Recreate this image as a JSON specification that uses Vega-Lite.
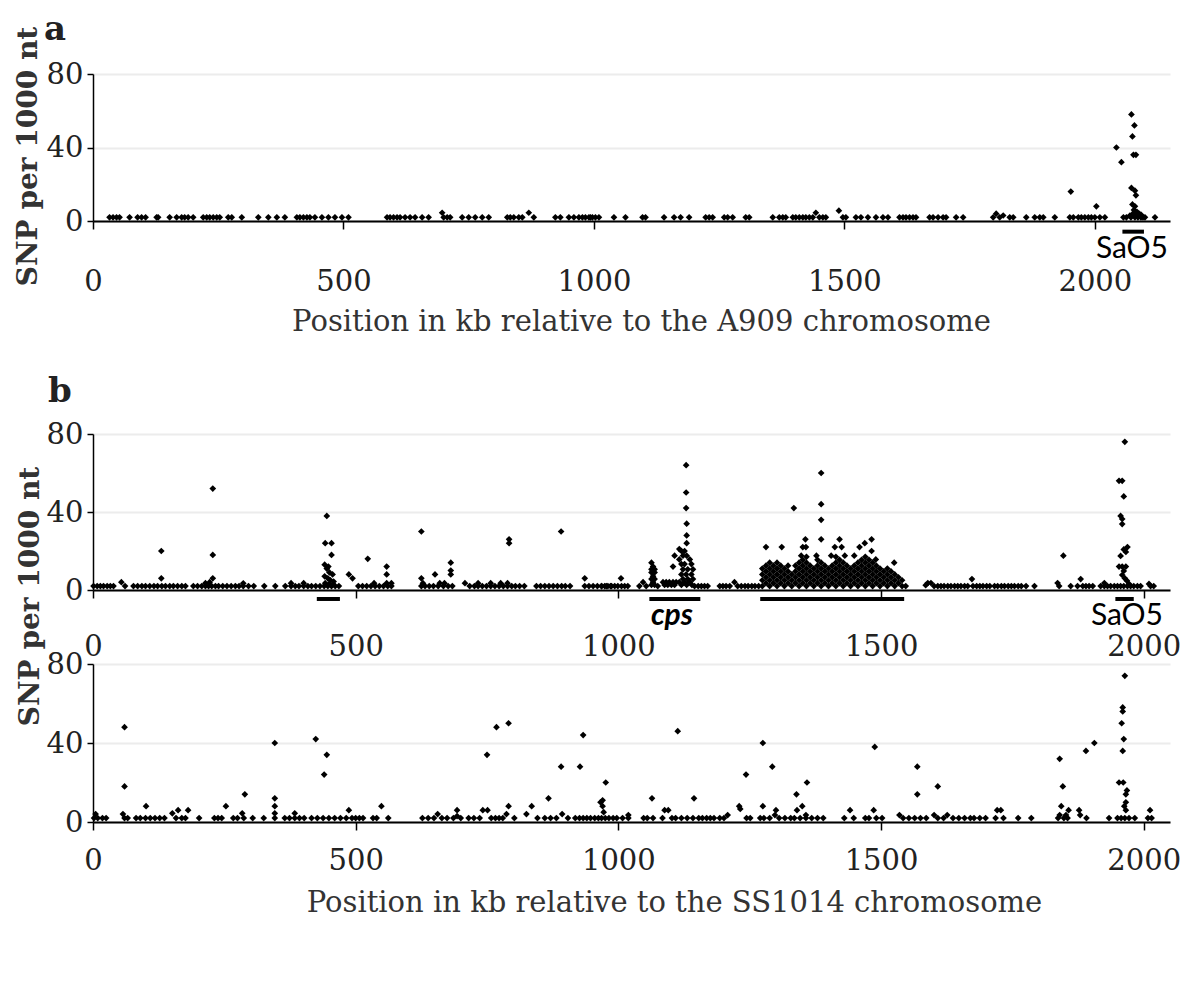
{
"$schema": "https://vega.github.io/schema/vega-lite/v6.json",
"padding": {"left": 13, "top": 13, "right": 0, "bottom": 0},
"background": "white",
"config": {
  "view": {"stroke": null},
  "font": "DejaVu Serif",
  "axis": {"labelFont": "DejaVu Serif", "labelFontSize": 29, "labelColor": "#222", "domainColor": "#000", "tickColor": "#000", "gridColor": "#ececec", "gridWidth": 2, "titleFont": "DejaVu Serif", "titleColor": "#333", "labelOverlap": false, "labelFlush": false},
  "axisX": {"grid": false, "domainWidth": 2, "tickWidth": 1.5, "tickSize": 8, "labelBaseline": "top", "format": "d", "titleFontSize": 29, "titleFontWeight": "normal", "titleBaseline": "middle", "titleAnchor": "start", "titleAlign": "center"},
  "axisY": {"grid": true, "domainWidth": 1.5, "tickWidth": 1.5, "tickSize": 6, "labelPadding": 4, "titleFontSize": 28, "titleFontWeight": "bold", "titleColor": "#333", "titleAngle": 270, "titleAlign": "center", "titleBaseline": "middle"},
  "title": {"font": "DejaVu Serif", "fontSize": 34, "fontWeight": "bold", "color": "#222", "anchor": "start", "frame": "group"}
},
"datasets": {
  "a": [
{"x":33,"y":2},{"x":40,"y":2},{"x":47,"y":2},{"x":53,"y":2},{"x":73,"y":2},{"x":89,"y":2},{"x":97,"y":2},{"x":105,"y":2},{"x":127,"y":2},{"x":130,"y":2},{"x":153,"y":2},{"x":167,"y":2},{"x":177,"y":2},{"x":183,"y":2},{"x":190,"y":2},{"x":200,"y":2},{"x":220,"y":2},{"x":227,"y":2},{"x":233,"y":2},{"x":240,"y":2},{"x":247,"y":2},{"x":253,"y":2},{"x":270,"y":2},{"x":277,"y":2},{"x":297,"y":2},{"x":330,"y":2},{"x":350,"y":2},{"x":367,"y":2},{"x":383,"y":2},{"x":407,"y":2},{"x":413,"y":2},{"x":420,"y":2},{"x":427,"y":2},{"x":433,"y":2},{"x":443,"y":2},{"x":457,"y":2},{"x":470,"y":2},{"x":483,"y":2},{"x":497,"y":2},{"x":510,"y":2},{"x":587,"y":2},{"x":593,"y":2},{"x":600,"y":2},{"x":607,"y":2},{"x":613,"y":2},{"x":623,"y":2},{"x":633,"y":2},{"x":643,"y":2},{"x":657,"y":2},{"x":670,"y":2},{"x":700,"y":2},{"x":707,"y":2},{"x":713,"y":2},{"x":737,"y":2},{"x":750,"y":2},{"x":763,"y":2},{"x":777,"y":2},{"x":790,"y":2},{"x":827,"y":2},{"x":833,"y":2},{"x":840,"y":2},{"x":850,"y":2},{"x":857,"y":2},{"x":880,"y":2},{"x":923,"y":2},{"x":933,"y":2},{"x":950,"y":2},{"x":960,"y":2},{"x":970,"y":2},{"x":983,"y":2},{"x":993,"y":2},{"x":1003,"y":2},{"x":1010,"y":2},{"x":977,"y":2},{"x":990,"y":2},{"x":997,"y":2},{"x":1040,"y":2},{"x":1063,"y":2},{"x":1097,"y":2},{"x":1103,"y":2},{"x":1140,"y":2},{"x":1160,"y":2},{"x":1173,"y":2},{"x":1190,"y":2},{"x":1223,"y":2},{"x":1230,"y":2},{"x":1237,"y":2},{"x":1260,"y":2},{"x":1267,"y":2},{"x":1277,"y":2},{"x":1303,"y":2},{"x":1310,"y":2},{"x":1357,"y":2},{"x":1370,"y":2},{"x":1377,"y":2},{"x":1383,"y":2},{"x":1397,"y":2},{"x":1403,"y":2},{"x":1410,"y":2},{"x":1417,"y":2},{"x":1423,"y":2},{"x":1430,"y":2},{"x":1437,"y":2},{"x":1450,"y":2},{"x":1457,"y":2},{"x":1463,"y":2},{"x":1497,"y":2},{"x":1503,"y":2},{"x":1523,"y":2},{"x":1533,"y":2},{"x":1547,"y":2},{"x":1563,"y":2},{"x":1577,"y":2},{"x":1587,"y":2},{"x":1610,"y":2},{"x":1617,"y":2},{"x":1623,"y":2},{"x":1630,"y":2},{"x":1637,"y":2},{"x":1643,"y":2},{"x":1670,"y":2},{"x":1677,"y":2},{"x":1687,"y":2},{"x":1697,"y":2},{"x":1703,"y":2},{"x":1723,"y":2},{"x":1737,"y":2},{"x":1797,"y":2},{"x":1810,"y":2},{"x":1830,"y":2},{"x":1837,"y":2},{"x":1863,"y":2},{"x":1880,"y":2},{"x":1890,"y":2},{"x":1897,"y":2},{"x":1920,"y":2},{"x":1950,"y":2},{"x":1957,"y":2},{"x":1967,"y":2},{"x":1973,"y":2},{"x":1980,"y":2},{"x":1987,"y":2},{"x":1993,"y":2},{"x":2000,"y":2},{"x":2010,"y":2},{"x":2020,"y":2},{"x":2057,"y":2},{"x":2063,"y":2},{"x":2072,"y":2},{"x":2080,"y":2},{"x":2086,"y":2},{"x":2092,"y":2},{"x":2096,"y":2},{"x":2100,"y":2},{"x":2120,"y":2},
{"x":697,"y":4.5},{"x":870,"y":4.5},{"x":1443,"y":4.5},{"x":1489,"y":5.6},{"x":1803,"y":4},{"x":1817,"y":3},{"x":1952,"y":16},{"x":2003,"y":8},{"x":2043,"y":40},{"x":2053,"y":32},{"x":2073,"y":58},{"x":2079,"y":52},{"x":2075,"y":46},{"x":2077,"y":36},{"x":2082,"y":36},{"x":2073,"y":18},{"x":2080,"y":16.5},{"x":2082,"y":14},{"x":2075,"y":9},{"x":2080,"y":8},{"x":2078,"y":6},{"x":2084,"y":5},{"x":2070,"y":3},{"x":2076,"y":4},{"x":2082,"y":3},{"x":2088,"y":4},{"x":2092,"y":3.5}
  ],
  "b1": [
{"x":1,"y":2},{"x":8,"y":2},{"x":14,"y":2},{"x":20,"y":2},{"x":27,"y":2},{"x":33,"y":2},{"x":39,"y":2},{"x":61,"y":2},{"x":77,"y":2},{"x":85,"y":2},{"x":93,"y":2},{"x":100,"y":2},{"x":108,"y":2},{"x":116,"y":2},{"x":123,"y":2},{"x":131,"y":2},{"x":138,"y":2},{"x":146,"y":2},{"x":153,"y":2},{"x":161,"y":2},{"x":169,"y":2},{"x":176,"y":2},{"x":191,"y":2},{"x":199,"y":2},{"x":207,"y":2},{"x":214,"y":2},{"x":220,"y":2},{"x":226,"y":2},{"x":233,"y":2},{"x":239,"y":2},{"x":247,"y":2},{"x":255,"y":2},{"x":263,"y":2},{"x":271,"y":2},{"x":278,"y":2},{"x":286,"y":2},{"x":296,"y":2},{"x":306,"y":2},{"x":326,"y":2},{"x":347,"y":2},{"x":366,"y":2},{"x":377,"y":2},{"x":385,"y":2},{"x":392,"y":2},{"x":401,"y":2},{"x":409,"y":2},{"x":416,"y":2},{"x":424,"y":2},{"x":432,"y":2},{"x":440,"y":2},{"x":447,"y":2},{"x":454,"y":2},{"x":461,"y":2},{"x":468,"y":2},{"x":505,"y":2},{"x":513,"y":2},{"x":521,"y":2},{"x":529,"y":2},{"x":537,"y":2},{"x":545,"y":2},{"x":553,"y":2},{"x":561,"y":2},{"x":568,"y":2},{"x":625,"y":2},{"x":632,"y":2},{"x":640,"y":2},{"x":648,"y":2},{"x":657,"y":2},{"x":667,"y":2},{"x":676,"y":2},{"x":684,"y":2},{"x":717,"y":2},{"x":726,"y":2},{"x":733,"y":2},{"x":741,"y":2},{"x":749,"y":2},{"x":757,"y":2},{"x":765,"y":2},{"x":773,"y":2},{"x":781,"y":2},{"x":789,"y":2},{"x":797,"y":2},{"x":804,"y":2},{"x":812,"y":2},{"x":821,"y":2},{"x":844,"y":2},{"x":852,"y":2},{"x":860,"y":2},{"x":868,"y":2},{"x":876,"y":2},{"x":884,"y":2},{"x":892,"y":2},{"x":899,"y":2},{"x":908,"y":2},{"x":936,"y":2},{"x":944,"y":2},{"x":952,"y":2},{"x":960,"y":2},{"x":968,"y":2},{"x":977,"y":2},{"x":985,"y":2},
{"x":54,"y":4},{"x":130,"y":20},{"x":130,"y":6},{"x":228,"y":52},{"x":228,"y":18},{"x":228,"y":6},{"x":222,"y":4},{"x":214,"y":3.5},{"x":286,"y":3.4},{"x":377,"y":3.5},{"x":401,"y":3.5},{"x":445,"y":38},{"x":442,"y":24},{"x":454,"y":24},{"x":454,"y":18},{"x":441,"y":13},{"x":448,"y":12},{"x":445,"y":11},{"x":450,"y":9},{"x":456,"y":8},{"x":441,"y":7},{"x":447,"y":6},{"x":452,"y":5},{"x":458,"y":4.3},{"x":442,"y":3.5},{"x":449,"y":3},{"x":457,"y":3},{"x":487,"y":8},{"x":494,"y":6},{"x":523,"y":16},{"x":535,"y":3.5},{"x":559,"y":12},{"x":559,"y":8},{"x":559,"y":3.5},{"x":568,"y":3.5},{"x":625,"y":30},{"x":625,"y":6},{"x":628,"y":3.5},{"x":651,"y":8},{"x":660,"y":3.5},{"x":669,"y":3.5},{"x":681,"y":14},{"x":681,"y":10},{"x":681,"y":8},{"x":708,"y":3.5},{"x":733,"y":3.5},{"x":757,"y":3.5},{"x":776,"y":3.5},{"x":789,"y":3.5},{"x":792,"y":26},{"x":792,"y":24},{"x":891,"y":30},{"x":936,"y":6},
{"x":968,"y":2},{"x":974,"y":2},{"x":980,"y":2},{"x":987,"y":2},{"x":993,"y":2},{"x":999,"y":2},{"x":1006,"y":2},{"x":1012,"y":2},{"x":1018,"y":2},{"x":1005,"y":6},
{"x":1040,"y":2},{"x":1047,"y":4},{"x":1053,"y":2},{"x":1063,"y":14},{"x":1066,"y":12},{"x":1063,"y":10.6},{"x":1069,"y":10.6},{"x":1063,"y":9},{"x":1069,"y":9},{"x":1066,"y":7},{"x":1063,"y":5.6},{"x":1069,"y":5.6},{"x":1066,"y":4},{"x":1063,"y":2.6},{"x":1069,"y":2.6},{"x":1075,"y":2},{"x":1085,"y":4},{"x":1091,"y":4},{"x":1097,"y":4},{"x":1104,"y":4},{"x":1110,"y":4},{"x":1116,"y":4},{"x":1088,"y":2.6},{"x":1094,"y":2.6},{"x":1101,"y":2.6},{"x":1107,"y":2.6},{"x":1104,"y":12},{"x":1107,"y":17.6},{"x":1116,"y":21},{"x":1129,"y":64},{"x":1129,"y":50},{"x":1129,"y":42},{"x":1130,"y":34},{"x":1130,"y":28},{"x":1130,"y":24},{"x":1120,"y":20},{"x":1126,"y":20},{"x":1123,"y":17.6},{"x":1130,"y":17.6},{"x":1116,"y":15.7},{"x":1136,"y":15.7},{"x":1120,"y":13.3},{"x":1126,"y":13.3},{"x":1139,"y":13.3},{"x":1123,"y":10.6},{"x":1132,"y":10.6},{"x":1142,"y":10.6},{"x":1120,"y":8},{"x":1129,"y":8},{"x":1139,"y":8},{"x":1123,"y":5.6},{"x":1132,"y":5.6},{"x":1142,"y":5.6},{"x":1126,"y":4},{"x":1136,"y":4},{"x":1120,"y":2.6},{"x":1130,"y":2.6},{"x":1140,"y":2.6},{"x":1145,"y":2},{"x":1152,"y":2},{"x":1158,"y":2},{"x":1164,"y":2},{"x":1170,"y":2},
{"x":1193,"y":2},{"x":1199,"y":2},{"x":1205,"y":2},{"x":1212,"y":2},{"x":1221,"y":4},{"x":1227,"y":2},{"x":1234,"y":2},{"x":1241,"y":2},{"x":1247,"y":2},{"x":1254,"y":2},{"x":1260,"y":2},{"x":1267,"y":2},
{"x":1274,"y":2},{"x":1274,"y":5},{"x":1274,"y":8},{"x":1274,"y":11},
{"x":1281,"y":3.5},{"x":1281,"y":6.5},{"x":1281,"y":9.5},{"x":1281,"y":12.5},{"x":1281,"y":22},
{"x":1288,"y":2},{"x":1288,"y":5},{"x":1288,"y":8},{"x":1288,"y":11},{"x":1288,"y":14},
{"x":1295,"y":3.5},{"x":1295,"y":6.5},{"x":1295,"y":9.5},{"x":1295,"y":12.5},
{"x":1302,"y":2},{"x":1302,"y":5},{"x":1302,"y":8},{"x":1302,"y":11},{"x":1302,"y":14},
{"x":1309,"y":3.5},{"x":1309,"y":6.5},{"x":1309,"y":9.5},{"x":1309,"y":12.5},
{"x":1316,"y":2},{"x":1316,"y":5},{"x":1316,"y":8},{"x":1316,"y":11},{"x":1311,"y":22},
{"x":1323,"y":3.5},{"x":1323,"y":6.5},{"x":1323,"y":9.5},{"x":1323,"y":12.5},
{"x":1330,"y":2},{"x":1330,"y":5},{"x":1330,"y":8},
{"x":1337,"y":3.5},{"x":1337,"y":6.5},{"x":1337,"y":9.5},{"x":1337,"y":12.5},{"x":1334,"y":42},
{"x":1344,"y":2},{"x":1344,"y":5},{"x":1344,"y":8},{"x":1344,"y":11},{"x":1344,"y":14},
{"x":1351,"y":3.5},{"x":1351,"y":6.5},{"x":1351,"y":9.5},{"x":1351,"y":12.5},{"x":1351,"y":15.5},{"x":1351,"y":22},{"x":1348,"y":17.6},
{"x":1358,"y":2},{"x":1358,"y":5},{"x":1358,"y":8},{"x":1358,"y":11},{"x":1358,"y":14},{"x":1358,"y":17},{"x":1356,"y":26},{"x":1357,"y":22},
{"x":1365,"y":3.5},{"x":1365,"y":6.5},{"x":1365,"y":9.5},{"x":1365,"y":12.5},
{"x":1372,"y":2},{"x":1372,"y":5},{"x":1372,"y":8},{"x":1372,"y":11},
{"x":1379,"y":3.5},{"x":1379,"y":6.5},{"x":1379,"y":9.5},{"x":1379,"y":12.5},{"x":1379,"y":15.5},{"x":1377,"y":17.6},
{"x":1386,"y":2},{"x":1386,"y":5},{"x":1386,"y":8},{"x":1386,"y":11},{"x":1386,"y":14},{"x":1386,"y":60},{"x":1386,"y":44},{"x":1386,"y":36},{"x":1386,"y":26},
{"x":1393,"y":3.5},{"x":1393,"y":6.5},{"x":1393,"y":9.5},{"x":1393,"y":12.5},
{"x":1400,"y":2},{"x":1400,"y":5},{"x":1400,"y":8},{"x":1400,"y":11},
{"x":1407,"y":3.5},{"x":1407,"y":6.5},{"x":1407,"y":9.5},{"x":1407,"y":12.5},{"x":1405,"y":17.6},
{"x":1414,"y":2},{"x":1414,"y":5},{"x":1414,"y":8},{"x":1414,"y":11},{"x":1414,"y":14},{"x":1414,"y":17},{"x":1412,"y":22},
{"x":1421,"y":3.5},{"x":1421,"y":6.5},{"x":1421,"y":9.5},{"x":1421,"y":12.5},{"x":1421,"y":15.5},{"x":1421,"y":26},{"x":1425,"y":22},
{"x":1428,"y":2},{"x":1428,"y":5},{"x":1428,"y":8},{"x":1428,"y":11},{"x":1428,"y":14},{"x":1431,"y":17.6},
{"x":1435,"y":3.5},{"x":1435,"y":6.5},{"x":1435,"y":9.5},{"x":1435,"y":12.5},
{"x":1442,"y":2},{"x":1442,"y":5},{"x":1442,"y":8},{"x":1442,"y":11},
{"x":1449,"y":3.5},{"x":1449,"y":6.5},{"x":1449,"y":9.5},{"x":1449,"y":12.5},{"x":1449,"y":17.6},
{"x":1456,"y":2},{"x":1456,"y":5},{"x":1456,"y":8},{"x":1456,"y":11},{"x":1456,"y":14},
{"x":1463,"y":3.5},{"x":1463,"y":6.5},{"x":1463,"y":9.5},{"x":1463,"y":12.5},{"x":1463,"y":15.5},{"x":1459,"y":22},
{"x":1470,"y":2},{"x":1470,"y":5},{"x":1470,"y":8},{"x":1470,"y":11},{"x":1470,"y":14},{"x":1470,"y":17},{"x":1469,"y":24},
{"x":1477,"y":3.5},{"x":1477,"y":6.5},{"x":1477,"y":9.5},{"x":1477,"y":12.5},{"x":1477,"y":15.5},{"x":1482,"y":26},{"x":1482,"y":20},
{"x":1484,"y":2},{"x":1484,"y":5},{"x":1484,"y":8},{"x":1484,"y":11},{"x":1484,"y":14},
{"x":1491,"y":3.5},{"x":1491,"y":6.5},{"x":1491,"y":9.5},{"x":1491,"y":12.5},{"x":1490,"y":15.7},
{"x":1498,"y":2},{"x":1498,"y":5},{"x":1498,"y":8},{"x":1498,"y":11},
{"x":1505,"y":3.5},{"x":1505,"y":6.5},{"x":1505,"y":9.5},
{"x":1512,"y":2},{"x":1512,"y":5},{"x":1512,"y":8},{"x":1512,"y":11},
{"x":1519,"y":3.5},{"x":1519,"y":6.5},{"x":1519,"y":9.5},
{"x":1526,"y":2},{"x":1526,"y":5},{"x":1526,"y":8},{"x":1525,"y":14},
{"x":1533,"y":3.5},{"x":1533,"y":6.5},
{"x":1540,"y":2},{"x":1540,"y":5},
{"x":1547,"y":2},
{"x":1585,"y":2.5},{"x":1589,"y":3.6},{"x":1595,"y":3.6},{"x":1601,"y":2},{"x":1608,"y":2},{"x":1614,"y":2},{"x":1620,"y":2},{"x":1627,"y":2},{"x":1633,"y":2},{"x":1640,"y":2},{"x":1646,"y":2},{"x":1652,"y":2},{"x":1659,"y":2},{"x":1665,"y":2},{"x":1673,"y":5.6},{"x":1675,"y":2},{"x":1682,"y":2},{"x":1688,"y":2},{"x":1694,"y":2},{"x":1701,"y":2},{"x":1707,"y":2},{"x":1716,"y":2},{"x":1722,"y":2},{"x":1729,"y":2},{"x":1735,"y":2},{"x":1742,"y":2},{"x":1748,"y":2},{"x":1754,"y":2},{"x":1761,"y":2},{"x":1767,"y":2},{"x":1776,"y":2},{"x":1792,"y":2},{"x":1836,"y":3.6},{"x":1839,"y":2},{"x":1847,"y":17.6},{"x":1861,"y":2},{"x":1874,"y":2},{"x":1880,"y":5.6},{"x":1884,"y":2},{"x":1890,"y":2},{"x":1896,"y":2},{"x":1903,"y":2},{"x":1918,"y":2},{"x":1925,"y":3.6},{"x":1925,"y":2},{"x":1931,"y":2},{"x":1937,"y":2},{"x":1944,"y":2},{"x":1950,"y":2},
{"x":1964,"y":76},{"x":1953,"y":56},{"x":1959,"y":56},{"x":1962,"y":48},{"x":1956,"y":38},{"x":1959,"y":36.4},{"x":1959,"y":33.8},{"x":1969,"y":22},{"x":1962,"y":20.8},{"x":1966,"y":19.5},{"x":1956,"y":17.5},{"x":1953,"y":12},{"x":1959,"y":12},{"x":1966,"y":12},{"x":1962,"y":9.8},{"x":1959,"y":7.7},{"x":1964,"y":6},{"x":1968,"y":4.8},{"x":1972,"y":3.1},{"x":1956,"y":2},{"x":1962,"y":2},{"x":1969,"y":2},{"x":1975,"y":2},{"x":1981,"y":2},{"x":1988,"y":2},{"x":1994,"y":2},{"x":2010,"y":3.1},{"x":2013,"y":2},{"x":2019,"y":2}
  ],
  "b2": [
{"x":2,"y":2},{"x":9,"y":2},{"x":18,"y":2},{"x":25,"y":2},{"x":5,"y":4},{"x":60,"y":48},{"x":60,"y":18},{"x":57,"y":4},{"x":60,"y":2},{"x":66,"y":2},{"x":82,"y":2},{"x":90,"y":2},{"x":100,"y":2},{"x":109,"y":2},{"x":118,"y":2},{"x":127,"y":2},{"x":136,"y":2},{"x":101,"y":8},{"x":151,"y":4.4},{"x":162,"y":6},{"x":181,"y":6},{"x":158,"y":2},{"x":169,"y":2},{"x":176,"y":2},{"x":202,"y":2},{"x":231,"y":2},{"x":238,"y":2},{"x":245,"y":2},{"x":253,"y":8},{"x":267,"y":2},{"x":275,"y":2},{"x":284,"y":4.4},{"x":287,"y":2},{"x":289,"y":14},{"x":304,"y":2},{"x":325,"y":2},{"x":346,"y":40},{"x":346,"y":12},{"x":346,"y":8},{"x":346,"y":4.4},{"x":346,"y":2},{"x":365,"y":2},{"x":374,"y":2},{"x":384,"y":4.4},{"x":384,"y":2},{"x":393,"y":2},{"x":402,"y":2},{"x":416,"y":2},{"x":427,"y":2},{"x":438,"y":2},{"x":449,"y":2},{"x":460,"y":2},{"x":471,"y":2},{"x":482,"y":2},{"x":424,"y":42},{"x":445,"y":34},{"x":440,"y":24},{"x":487,"y":6},{"x":493,"y":2},{"x":500,"y":2},{"x":507,"y":2},{"x":514,"y":2},{"x":533,"y":2},{"x":540,"y":2},{"x":562,"y":2},{"x":549,"y":8},
{"x":627,"y":2},{"x":638,"y":2},{"x":649,"y":2},{"x":656,"y":4},{"x":664,"y":2},{"x":674,"y":2},{"x":686,"y":2},{"x":693,"y":6},{"x":693,"y":3},{"x":700,"y":2},{"x":715,"y":2},{"x":725,"y":2},{"x":736,"y":2},{"x":742,"y":6},{"x":751,"y":6},{"x":758,"y":2},{"x":766,"y":2},{"x":773,"y":2},{"x":780,"y":2},{"x":787,"y":4},{"x":750,"y":34},{"x":768,"y":48},{"x":791,"y":50},{"x":791,"y":8},{"x":802,"y":2},{"x":825,"y":4},{"x":835,"y":8},{"x":846,"y":2},{"x":867,"y":12},{"x":860,"y":2},{"x":871,"y":2},{"x":882,"y":2},{"x":893,"y":4},{"x":904,"y":2},{"x":891,"y":28},{"x":927,"y":28},{"x":933,"y":44},{"x":918,"y":2},{"x":926,"y":2},{"x":933,"y":2},{"x":940,"y":2},{"x":947,"y":2},{"x":955,"y":2},{"x":962,"y":2},{"x":966,"y":10},
{"x":976,"y":20},{"x":970,"y":11},{"x":970,"y":8},{"x":972,"y":5},{"x":968,"y":2},{"x":975,"y":2},{"x":982,"y":2},{"x":990,"y":2},{"x":997,"y":2},{"x":1008,"y":2},{"x":1019,"y":2},{"x":1019,"y":3.5},{"x":1048,"y":2},{"x":1055,"y":2},{"x":1066,"y":2},{"x":1064,"y":12},{"x":1084,"y":2},{"x":1088,"y":6},{"x":1095,"y":6},{"x":1102,"y":2},{"x":1109,"y":2},{"x":1120,"y":2},{"x":1131,"y":2},{"x":1142,"y":2},{"x":1113,"y":46},{"x":1144,"y":12},{"x":1153,"y":2},{"x":1160,"y":2},{"x":1168,"y":2},{"x":1175,"y":2},{"x":1182,"y":2},{"x":1193,"y":2},{"x":1201,"y":2},{"x":1208,"y":3.5},{"x":1230,"y":8},{"x":1232,"y":6.6},{"x":1243,"y":24},{"x":1244,"y":2},{"x":1251,"y":2},{"x":1275,"y":40},{"x":1275,"y":8},{"x":1270,"y":2},{"x":1277,"y":2},{"x":1288,"y":2},{"x":1293,"y":28},{"x":1300,"y":6},{"x":1298,"y":3.5},{"x":1306,"y":2},{"x":1317,"y":2},{"x":1328,"y":2},{"x":1339,"y":14},{"x":1350,"y":8},{"x":1340,"y":6},{"x":1359,"y":20},{"x":1357,"y":3.5},{"x":1335,"y":2},{"x":1346,"y":2},{"x":1357,"y":2},{"x":1368,"y":2},{"x":1379,"y":2},{"x":1390,"y":2},{"x":1430,"y":2},{"x":1441,"y":6},{"x":1448,"y":2},{"x":1470,"y":2},{"x":1477,"y":2},{"x":1486,"y":6},{"x":1491,"y":2},{"x":1502,"y":2},{"x":1488,"y":38},{"x":1535,"y":3.5},{"x":1542,"y":2},{"x":1553,"y":2},{"x":1564,"y":2},{"x":1575,"y":2},{"x":1586,"y":2},{"x":1569,"y":28},{"x":1569,"y":14},{"x":1608,"y":18},{"x":1601,"y":3.5},{"x":1608,"y":2},{"x":1619,"y":2},{"x":1626,"y":3.5},{"x":1637,"y":2},{"x":1648,"y":2},{"x":1659,"y":2},{"x":1670,"y":2},{"x":1677,"y":2},{"x":1688,"y":2},{"x":1699,"y":2},{"x":1718,"y":2},{"x":1721,"y":6},{"x":1728,"y":6},{"x":1733,"y":2},{"x":1761,"y":2},{"x":1786,"y":2},{"x":1840,"y":32},{"x":1846,"y":18},{"x":1843,"y":8},{"x":1840,"y":3.5},{"x":1837,"y":2},{"x":1848,"y":2},{"x":1855,"y":2},{"x":1857,"y":6},{"x":1852,"y":3.5},{"x":1877,"y":6},{"x":1879,"y":3.5},{"x":1891,"y":2},{"x":1890,"y":36},{"x":1906,"y":40},{"x":1934,"y":2},{"x":1964,"y":74},{"x":1960,"y":58},{"x":1960,"y":56},{"x":1958,"y":50},{"x":1962,"y":42},{"x":1960,"y":36},{"x":1953,"y":20},{"x":1961,"y":20},{"x":1968,"y":16},{"x":1966,"y":14},{"x":1966,"y":10},{"x":1963,"y":8},{"x":1966,"y":6},{"x":1950,"y":2},{"x":1957,"y":2},{"x":1964,"y":2},{"x":1972,"y":2},{"x":1983,"y":2},{"x":2012,"y":6},{"x":2008,"y":2},{"x":2015,"y":2}
  ],
  "regA": [{"region": "SaO5", "start": 2055, "end": 2098, "mid": 2074}],
  "regB": [{"region": "", "start": 426, "end": 470, "mid": 448}, {"region": "cps", "start": 1059, "end": 1156, "mid": 1102}, {"region": "", "start": 1270, "end": 1544, "mid": 1407}, {"region": "SaO5", "start": 1946, "end": 1981, "mid": 1968}]
},
"vconcat": [
  {
    "width": 1077, "height": 147,
    "title": {"text": "a", "dx": -49, "offset": -21},
    "layer": [
      {"data": {"name": "a"},
       "mark": {"type": "point", "shape": "diamond", "filled": true, "color": "#000", "size": 45, "opacity": 1},
       "encoding": {
         "x": {"field": "x", "type": "quantitative", "scale": {"domain": [0, 2150], "nice": false}, "axis": {"values": [0, 500, 1000, 1500, 2000], "labelPadding": 38, "title": "Position in kb relative to the A909 chromosome", "titleX": 548, "titleY": 100}},
         "y": {"field": "y", "type": "quantitative", "scale": {"domain": [0, 80], "nice": false}, "axis": {"values": [0, 40, 80], "title": "SNP per 1000 nt", "titleX": -65, "titleY": 82}}
       }},
      {"mark": {"type": "text", "font": "DejaVu Serif", "fontSize": 29, "fontWeight": "bold", "color": "#333", "align": "left", "baseline": "middle"},
       "encoding": {"x": {"datum": 20, "type": "quantitative"}, "y": {"datum": 69, "type": "quantitative"}, "text": {"value": "CF01173 vs A909"}}},
      {"data": {"name": "regA"},
       "mark": {"type": "rule", "strokeWidth": 4, "color": "#000"},
       "encoding": {"x": {"field": "start", "type": "quantitative"}, "x2": {"field": "end"}, "y": {"datum": -5.8, "type": "quantitative"}}},
      {"data": {"name": "regA"},
       "mark": {"type": "text", "font": "Lato", "fontSize": 30, "color": "#000", "align": "center", "baseline": "middle"},
       "encoding": {"x": {"field": "mid", "type": "quantitative"}, "y": {"datum": -15.2, "type": "quantitative"}, "text": {"field": "region"}}}
    ]
  },
  {
    "spacing": 74,
    "bounds": "flush",
    "vconcat": [
      {
        "width": 1077, "height": 156,
        "title": {"text": "b", "dx": -45, "offset": 11},
        "layer": [
          {"data": {"name": "b1"},
           "mark": {"type": "point", "shape": "diamond", "filled": true, "color": "#000", "size": 45, "opacity": 1},
           "encoding": {
             "x": {"field": "x", "type": "quantitative", "scale": {"domain": [0, 2050], "nice": false}, "axis": {"values": [0, 500, 1000, 1500, 2000], "labelPadding": 34, "title": null}},
             "y": {"field": "y", "type": "quantitative", "scale": {"domain": [0, 80], "nice": false}, "axis": {"values": [0, 40, 80], "title": "SNP per 1000 nt", "titleX": -63, "titleY": 162}}
           }},
          {"mark": {"type": "text", "font": "DejaVu Serif", "fontSize": 29, "fontWeight": "bold", "color": "#333", "align": "left", "baseline": "middle"},
           "encoding": {"x": {"datum": 17, "type": "quantitative"}, "y": {"datum": 68.7, "type": "quantitative"}, "text": {"value": "A909 vs ss1014"}}},
          {"data": {"name": "regB"},
           "mark": {"type": "rule", "strokeWidth": 4, "color": "#000"},
           "encoding": {"x": {"field": "start", "type": "quantitative"}, "x2": {"field": "end"}, "y": {"datum": -4.6, "type": "quantitative"}}},
          {"data": {"name": "regB"},
           "transform": [{"filter": {"field": "region", "equal": "cps"}}],
           "mark": {"type": "text", "font": "Lato", "fontSize": 30, "fontWeight": "bold", "fontStyle": "italic", "color": "#000", "align": "center", "baseline": "middle"},
           "encoding": {"x": {"field": "mid", "type": "quantitative"}, "y": {"datum": -13.3, "type": "quantitative"}, "text": {"field": "region"}}},
          {"data": {"name": "regB"},
           "transform": [{"filter": {"field": "region", "equal": "SaO5"}}],
           "mark": {"type": "text", "font": "Lato", "fontSize": 30, "color": "#000", "align": "center", "baseline": "middle"},
           "encoding": {"x": {"field": "mid", "type": "quantitative"}, "y": {"datum": -13.3, "type": "quantitative"}, "text": {"field": "region"}}}
        ]
      },
      {
        "width": 1077, "height": 158,
        "layer": [
          {"data": {"name": "b2"},
           "mark": {"type": "point", "shape": "diamond", "filled": true, "color": "#000", "size": 45, "opacity": 1},
           "encoding": {
             "x": {"field": "x", "type": "quantitative", "scale": {"domain": [0, 2050], "nice": false}, "axis": {"values": [0, 500, 1000, 1500, 2000], "labelPadding": 16, "title": "Position in kb relative to the SS1014 chromosome", "titleX": 581, "titleY": 80}},
             "y": {"field": "y", "type": "quantitative", "scale": {"domain": [0, 80], "nice": false}, "axis": {"values": [0, 40, 80], "title": null}}
           }},
          {"mark": {"type": "text", "font": "DejaVu Serif", "fontSize": 29, "fontWeight": "bold", "color": "#333", "align": "left", "baseline": "middle"},
           "encoding": {"x": {"datum": 15, "type": "quantitative"}, "y": {"datum": 68.4, "type": "quantitative"}, "text": {"value": "H36b vs ss1014"}}}
        ]
      }
    ]
  }
],
"spacing": 213,
"bounds": "flush"
}
